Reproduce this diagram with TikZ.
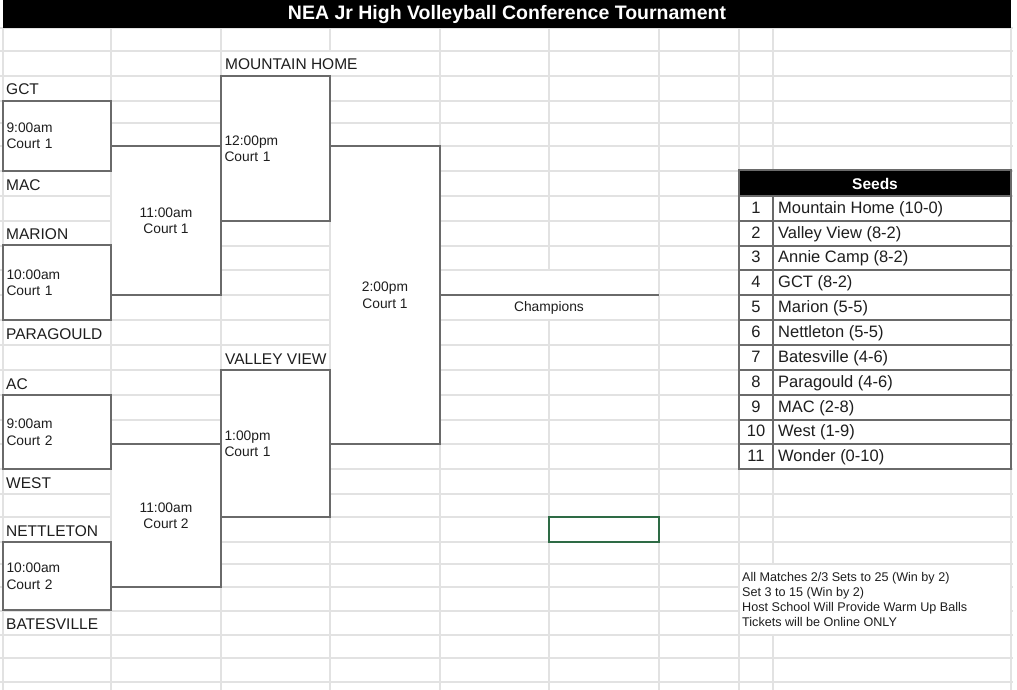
\documentclass[tikz,border=0pt]{standalone}
\usepackage{fontspec}
\setmainfont{Liberation Sans}
\usetikzlibrary{positioning}
\definecolor{gridgray}{HTML}{E2E2E2}
\definecolor{linegray}{HTML}{6A6A6A}
\definecolor{ink}{HTML}{1E1E1E}
\definecolor{selgreen}{HTML}{2E6B45}

\begin{document}
\begin{tikzpicture}[x=1pt, y=-1pt,
    gridline/.style={draw=gridgray, line width=1.6pt},
    bracket/.style={draw=linegray, line width=1.8pt},
    tableline/.style={draw=linegray, line width=1.8pt},
    slot/.style={inner xsep=3.5pt, inner ysep=0pt, outer sep=0pt, align=left, text=ink, font=\fontsize{13.8}{16.5}\selectfont},
    round/.style={inner sep=0pt, outer sep=0pt, align=center, text=ink, font=\fontsize{13.8}{16.5}\selectfont},
    team/.style={anchor=base west, inner sep=0pt, text=ink, font=\fontsize{15.5}{18}\selectfont},
    seedtxt/.style={inner sep=0pt, text=ink, font=\fontsize{16.5}{19}\selectfont},
    note/.style={anchor=base west, inner sep=0pt, text=ink, font=\fontsize{12.6}{15}\selectfont},
]
\fill[white] (0,0) rectangle (1017,690);
\useasboundingbox (0,0) rectangle (1017,690);

% Sheet grid
\foreach \gy in {28,51,76,101,123,146,171,196,221,246,270,295,320,345,370,395,420,444,469,494,517,542,564,587,611,635,658,682}
    \draw[gridline] (0,\gy) -- (1013,\gy);
\foreach \gx in {3,111,221,330,440,549,659,739,773,1011}
    \draw[gridline] (\gx,28) -- (\gx,690);

% Merged cells and overflowing text hide the grid
\foreach \xa/\ya/\xb/\yb in {3/101/111/171, 111/146/221/295, 221/76/330/221, 3/245/111/320,
    330/146/440/444, 3/395/111/469, 221/370/330/517, 111/444/221/587, 3/542/111/610,
    440/270/659/320, 221/51/440/76, 739/564/1011/635}
    \fill[white] (\xa+1,\ya+1) rectangle (\xb-1,\yb-1);

% Title bar
\fill[black] (3,0) rectangle (1011,28);
\node[anchor=base, inner sep=0pt, text=white, font=\fontsize{19.5}{22}\selectfont\bfseries] (title) at (507,19.5) {NEA Jr High Volleyball Conference Tournament};

% First round
\node[slot, bracket, text width=101pt, minimum height=70pt] (g1) at (57,136) {9:00am\\Court 1};
\node[slot, bracket, text width=101pt, minimum height=75pt] (g2) at (57,282.5) {10:00am\\Court 1};
\node[slot, bracket, text width=101pt, minimum height=74pt] (g3) at (57,432) {9:00am\\Court 2};
\node[slot, bracket, text width=101pt, minimum height=68pt] (g4) at (57,576) {10:00am\\Court 2};

% Second round
\node[round, minimum width=110pt, minimum height=149pt] (q1) at (166,220.5) {11:00am\\Court 1};
\node[round, minimum width=110pt, minimum height=143pt] (q2) at (166,515.5) {11:00am\\Court 2};
\draw[bracket] (q1.north west) -- (q1.north east) -- (q1.south east) -- (q1.south west);
\draw[bracket] (q2.north west) -- (q2.north east) -- (q2.south east) -- (q2.south west);

% Semis
\node[slot, bracket, text width=102pt, minimum height=145pt] (s1) at (275.5,148.5) {12:00pm\\Court 1};
\node[slot, bracket, text width=102pt, minimum height=147pt] (s2) at (275.5,443.5) {1:00pm\\Court 1};

% Final
\node[round, minimum width=110pt, minimum height=298pt] (fin) at (385,295) {2:00pm\\Court 1};
\draw[bracket] (fin.north west) -- (fin.north east) -- (fin.south east) -- (fin.south west);
\coordinate (champend) at (659,295);
\draw[bracket] (fin.east) -- (champend);
\node[anchor=base, round] (champ) at (549,311.7) {Champions};

% Teams
\node[team] (mh) at (225,70) {MOUNTAIN HOME};
\node[team] (gct) at (6,95) {GCT};
\node[team] (mac) at (6,190) {MAC};
\node[team] (marion) at (6,239.5) {MARION};
\node[team] (paragould) at (6,339) {PARAGOULD};
\node[team] (vv) at (225,364) {VALLEY VIEW};
\node[team] (ac) at (6,389) {AC};
\node[team] (west) at (6,488) {WEST};
\node[team] (nettleton) at (6,536) {NETTLETON};
\node[team] (batesville) at (6,629) {BATESVILLE};

% Seeds table
\fill[black] (739,170) rectangle (1011,196);
\node[anchor=base, inner sep=0pt, text=white, font=\fontsize{15.5}{18}\selectfont\bfseries] (seedhead) at (875,189.5) {Seeds};
\foreach \n/\yb/\team in {1/221/Mountain Home (10-0), 2/246/Valley View (8-2), 3/270/Annie Camp (8-2),
    4/295/GCT (8-2), 5/320/Marion (5-5), 6/345/Nettleton (5-5), 7/370/Batesville (4-6),
    8/395/Paragould (4-6), 9/420/MAC (2-8), 10/444/West (1-9), 11/469/Wonder (0-10)} {
    \draw[tableline] (739,\yb) -- (1011,\yb);
    \node[seedtxt, anchor=base] (seedno\n) at (756,\yb-7.5) {\n};
    \node[seedtxt, anchor=base west] (seed\n) at (778,\yb-7.5) {\team};
}
\draw[tableline] (739,170) rectangle (1011,469);
\draw[tableline] (739,196) -- (1011,196);
\draw[tableline] (773,196) -- (773,469);

% Selected cell
\draw[selgreen, line width=1.2pt] (549,517) rectangle (659,542);

% Notes
\node[note] (note1) at (742,581) {All Matches 2/3 Sets to 25 (Win by 2)};
\node[note] (note2) at (742,596) {Set 3 to 15 (Win by 2)};
\node[note] (note3) at (742,611) {Host School Will Provide Warm Up Balls};
\node[note] (note4) at (742,626) {Tickets will be Online ONLY};
\end{tikzpicture}
\end{document}
